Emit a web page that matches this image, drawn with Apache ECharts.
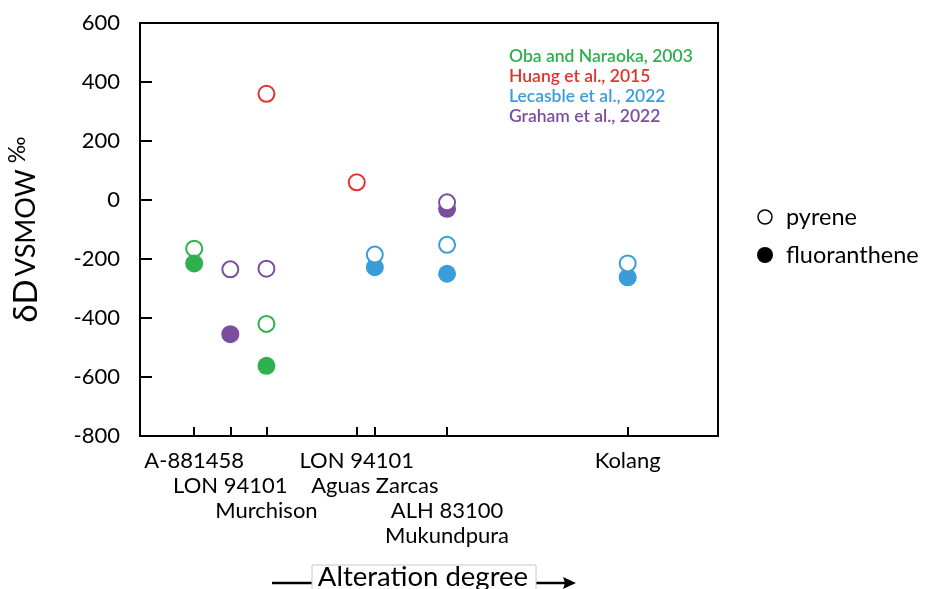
<!DOCTYPE html>
<html><head><meta charset="utf-8">
<script src="https://cdn.jsdelivr.net/npm/echarts@6/dist/echarts.min.js"></script>
<style>html,body{margin:0;padding:0;background:#fff}#c{width:926px;height:589px}</style>
</head><body><div id="c"></div>
<script>
// Tick positions (alteration degree, arbitrary units) and meteorite labels
const tickPositions = [1.5, 2.5, 3.5, 6, 6.5, 8.5, 13.5];
const tickLabels = ['A-881458', 'LON 94101', 'Murchison', 'LON 94101', 'Aguas Zarcas', 'ALH 83100\nMukundpura', 'Kolang'];
const tickRows = [0, 1, 2, 0, 1, 2, 0];
const yTicks = [-800, -600, -400, -200, 0, 200, 400, 600];

// Oba and Naraoka, 2003
const obaX = [1.5, 3.5];
const obaPyrene = [-165, -420];
const obaFluor = [-215, -562];
// Huang et al., 2015
const huangX = [3.5, 6];
const huangPyrene = [360, 60];
// Lecasble et al., 2022
const lecX = [6.5, 8.5, 13.5];
const lecPyrene = [-185, -152, -215];
const lecFluor = [-228, -250, -262];
// Graham et al., 2022
const grahamX = [2.5, 3.5, 8.5];
const grahamPyrene = [-235, -233, -8];
const grahamFluor = [-455, null, -30];

const sources = ['Oba and Naraoka, 2003', 'Huang et al., 2015', 'Lecasble et al., 2022', 'Graham et al., 2022'];
const colors = ['#2fb04c', '#e0322f', '#3a9dd9', '#7a4d9f'];

const FONT = 'Lato';
const pts = (xs, ys) => xs.map((x, i) => [x, ys[i]]).filter(p => p[1] !== null);

function openSeries(name, xs, ys, col) {
  return { name: name + ' pyrene', type: 'scatter', symbol: 'circle', symbolSize: 16,
    itemStyle: { color: '#fff', borderColor: col, borderWidth: 2, opacity: 1 },
    emphasis: { disabled: true }, data: pts(xs, ys) };
}
function fillSeries(name, xs, ys, col) {
  return { name: name + ' fluoranthene', type: 'scatter', symbol: 'circle', symbolSize: 18,
    itemStyle: { color: col, opacity: 1 }, emphasis: { disabled: true }, data: pts(xs, ys) };
}

// one x axis per label row (same scale); row 0 axis draws line and ticks
function rowAxis(row) {
  const vals = tickPositions.filter((t, i) => tickRows[i] === row);
  return {
    type: 'value', min: 0, max: 16, gridIndex: 0, position: 'bottom', offset: 0,
    splitLine: { show: false },
    axisLine: { show: row === 0, onZero: false, lineStyle: { color: '#000', width: 2 } },
    axisTick: { show: row === 0, inside: true, length: 9, lineStyle: { color: '#000', width: 2 }, customValues: tickPositions },
    axisLabel: {
      customValues: vals, margin: 12 + row * 25, color: '#000', fontFamily: FONT, fontSize: 22, lineHeight: 25,
      verticalAlign: 'top', showMinLabel: true, showMaxLabel: true, interval: 0, hideOverlap: false,
      formatter: function (v) {
        const i = tickPositions.findIndex((t, k) => tickRows[k] === row && Math.abs(t - v) < 1e-6);
        return i < 0 ? '' : tickLabels[i];
      }
    }
  };
}

const chart = echarts.init(document.getElementById('c'), null, { renderer: 'canvas' });
chart.setOption({
  animation: false,
  backgroundColor: '#fff',
  grid: { left: 140, right: 208, top: 23, bottom: 153, show: true, borderColor: '#000', borderWidth: 2,
    containLabel: false, outerBoundsMode: 'none' },
  xAxis: [rowAxis(0), rowAxis(1), rowAxis(2)],
  yAxis: {
    type: 'value', min: -800, max: 600, interval: 200,
    splitLine: { show: false },
    axisLine: { show: true, lineStyle: { color: '#000', width: 2 } },
    axisTick: { show: true, inside: true, length: 12, lineStyle: { color: '#000', width: 2 } },
    axisLabel: { color: '#000', fontFamily: FONT, fontSize: 22, margin: 20 },
    name: '{a|δD} {b|VSMOW}  {c|‰}',
    nameLocation: 'middle', nameRotate: 90, nameGap: 94,
    nameTextStyle: {
      color: '#000', fontFamily: FONT,
      rich: {
        a: { fontSize: 33, fontFamily: FONT, color: '#000', lineHeight: 40 },
        b: { fontSize: 27, fontFamily: FONT, color: '#000', lineHeight: 40 },
        c: { fontSize: 23, fontFamily: FONT, color: '#000', lineHeight: 24, verticalAlign: 'top' }
      }
    }
  },
  series: [
    openSeries(sources[0], obaX, obaPyrene, colors[0]),
    fillSeries(sources[0], obaX, obaFluor, colors[0]),
    openSeries(sources[1], huangX, huangPyrene, colors[1]),
    fillSeries(sources[2], lecX, lecFluor, colors[2]),
    openSeries(sources[2], lecX, lecPyrene, colors[2]),
    fillSeries(sources[3], grahamX, grahamFluor, colors[3]),
    openSeries(sources[3], grahamX, grahamPyrene, colors[3])
  ],
  graphic: [
    // source labels
    ...sources.map((s, i) => ({ type: 'text', left: 509, top: 47 + i * 20, z: 10,
      style: { text: s, fill: colors[i], font: '600 17.5px ' + FONT } })),
    // compound legend
    { type: 'circle', shape: { cx: 765, cy: 217, r: 7 }, style: { fill: '#fff', stroke: '#000', lineWidth: 1.5 } },
    { type: 'circle', shape: { cx: 765, cy: 255, r: 8 }, style: { fill: '#000' } },
    { type: 'text', x: 786, y: 217, style: { text: 'pyrene', fill: '#000', font: '23.5px ' + FONT, verticalAlign: 'middle' } },
    { type: 'text', x: 786, y: 255, style: { text: 'fluoranthene', fill: '#000', font: '23.5px ' + FONT, verticalAlign: 'middle' } },
    // alteration-degree arrow
    { type: 'line', shape: { x1: 272, y1: 583, x2: 312, y2: 583 }, style: { stroke: '#000', lineWidth: 2.5 } },
    { type: 'line', shape: { x1: 536, y1: 583, x2: 566, y2: 583 }, style: { stroke: '#000', lineWidth: 2.5 } },
    { type: 'polygon', shape: { points: [[576, 583], [563, 577], [565, 583], [563, 589]] }, style: { fill: '#000' } },
    { type: 'rect', shape: { x: 312, y: 565, width: 224, height: 40 }, style: { fill: '#fff', stroke: '#c8c8c8', lineWidth: 1 } },
    { type: 'text', x: 423, y: 563, style: { text: 'Alteration degree', fill: '#000', font: '27.5px ' + FONT, align: 'center', verticalAlign: 'top' } }
  ]
});
</script></body></html>
